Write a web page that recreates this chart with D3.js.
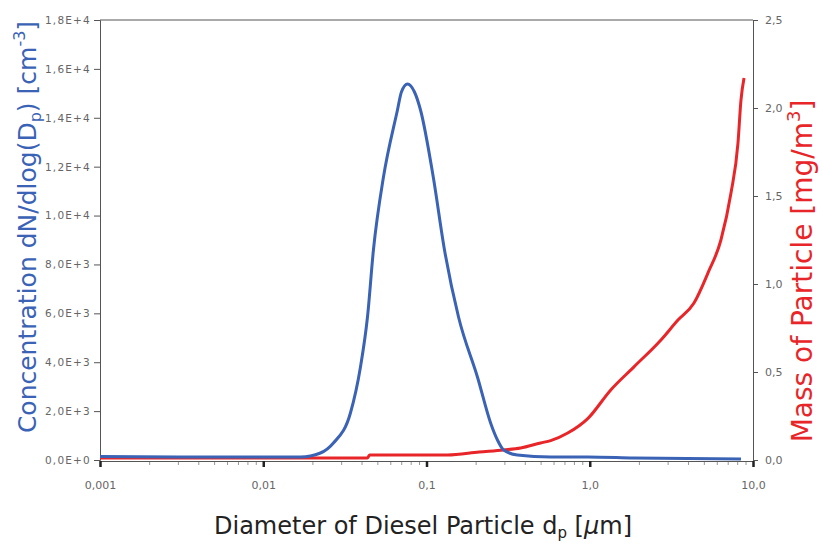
<!DOCTYPE html>
<html>
<head>
<meta charset="utf-8">
<script src="https://cdn.jsdelivr.net/npm/d3@7"></script>
<style>
  body { margin: 0; background: #fff; overflow: hidden; }
  svg { display: block; }
  .tick text { font-family: "DejaVu Sans", sans-serif; fill: #666; }
  .title { font-family: "DejaVu Sans", sans-serif; }
</style>
</head>
<body>
<div class="chart"></div>
<script>
const width = 822;
const height = 545;

// number concentration (left axis)
const blueDiam = [0.001, 0.0041, 0.0169, 0.0224, 0.0269, 0.0342, 0.0394, 0.0435,
  0.0473, 0.0545, 0.0664, 0.0702, 0.0765, 0.0844, 0.0919, 0.110, 0.1289, 0.1571, 0.206,
  0.247, 0.272, 0.297, 0.360, 0.576, 0.972, 1.86, 8.44];
const blueConc = [143, 123, 123, 286, 695, 1923, 3805, 5850,
  8591, 11577, 14318, 15055, 15382, 15055, 14318, 11577, 8591, 5850, 3355,
  1514, 818, 409, 205, 123, 123, 82, 41];

// particle mass (right axis)
const redDiam = [0.001, 0.0083, 0.0434, 0.0449, 0.1345, 0.21, 0.297, 0.377, 0.50, 0.576, 0.733,
  0.972, 1.345, 1.86, 2.73, 3.47, 4.35, 5.30, 6.36, 7.33, 8.09, 8.44, 8.81];
const redMass = [0.011, 0.011, 0.011, 0.028, 0.028, 0.045, 0.057, 0.068, 0.097, 0.11, 0.153,
  0.235, 0.398, 0.528, 0.682, 0.795, 0.892, 1.063, 1.25, 1.517, 1.80, 2.045, 2.17];

const leftTicks = [0, 2000, 4000, 6000, 8000, 10000, 12000, 14000, 16000, 18000];
const leftTickLabels = ["0,0E+0", "2,0E+3", "4,0E+3", "6,0E+3", "8,0E+3", "1,0E+4", "1,2E+4", "1,4E+4", "1,6E+4", "1,8E+4"];
const rightTicks = [0, 0.5, 1, 1.5, 2, 2.5];
const rightTickLabels = ["0,0", "0,5", "1,0", "1,5", "2,0", "2,5"];
const xTicks = [0.001, 0.01, 0.1, 1, 10];
const xTickLabels = ["0,001", "0,01", "0,1", "1,0", "10,0"];

const margin = { top: 20, right: 69, bottom: 85, left: 100 };
const innerWidth = width - margin.left - margin.right;
const innerHeight = height - margin.top - margin.bottom;

const x = d3.scaleLog().domain([0.001, 10]).range([0, innerWidth]);
const yLeft = d3.scaleLinear().domain([0, 18000]).range([innerHeight, 0]);
const yRight = d3.scaleLinear().domain([0, 2.5]).range([innerHeight, 0]);

const svg = d3.select(".chart")
  .append("svg")
  .attr("width", width)
  .attr("height", height);

const g = svg.append("g")
  .attr("transform", `translate(${margin.left},${margin.top})`);

// top frame line
g.append("line")
  .attr("x1", 0).attr("x2", innerWidth)
  .attr("y1", 0).attr("y2", 0)
  .attr("stroke", "#555");

const leftAxis = g.append("g")
  .call(d3.axisLeft(yLeft).tickValues(leftTicks)
    .tickFormat((d, i) => leftTickLabels[i]).tickSize(6).tickPadding(3));

const rightAxis = g.append("g")
  .attr("transform", `translate(${innerWidth},0)`)
  .call(d3.axisRight(yRight).tickValues(rightTicks)
    .tickFormat((d, i) => rightTickLabels[i]).tickSize(5).tickPadding(7));

// minor ticks on the log axis
const minor = [];
xTicks.slice(0, -1).forEach(t => { for (let k = 2; k < 10; k++) minor.push(t * k); });

const xAxisMinor = g.append("g")
  .attr("transform", `translate(0,${innerHeight + 1})`)
  .call(d3.axisBottom(x).tickValues(minor).tickFormat("").tickSize(4));

const xAxis = g.append("g")
  .attr("transform", `translate(0,${innerHeight + 1})`)
  .call(d3.axisBottom(x).tickValues(xTicks)
    .tickFormat((d, i) => xTickLabels[i]).tickSize(6).tickPadding(14));

[leftAxis, rightAxis, xAxis, xAxisMinor].forEach(a => {
  a.select(".domain").attr("stroke", "#555");
  a.selectAll(".tick line").attr("stroke", "#555");
});
xAxisMinor.selectAll(".tick line").attr("stroke", "#999");
xAxisMinor.select(".domain").remove();
xAxis.selectAll(".tick line").attr("stroke-width", 2.5).attr("stroke", "#222");
leftAxis.selectAll(".tick text").style("font-size", "10.5px").style("letter-spacing", "1.2px");
rightAxis.selectAll(".tick text").style("font-size", "11px");
xAxis.selectAll(".tick text").style("font-size", "11px");

const massLine = d3.line()
  .x((d, i) => x(redDiam[i]))
  .y((d, i) => yRight(redMass[i]))
  .curve(d3.curveMonotoneX);

const concLine = d3.line()
  .x((d, i) => x(blueDiam[i]))
  .y((d, i) => yLeft(blueConc[i]))
  .curve(d3.curveMonotoneX);

g.append("path")
  .datum(redMass)
  .attr("fill", "none")
  .attr("stroke", "#e8262a")
  .attr("stroke-width", 3)
  .attr("d", massLine);

g.append("path")
  .datum(blueConc)
  .attr("fill", "none")
  .attr("stroke", "#3a62b5")
  .attr("stroke-width", 3)
  .attr("d", concLine);

// axis titles
const leftTitle = svg.append("text")
  .attr("class", "title")
  .attr("transform", "translate(36,227) rotate(-90)")
  .attr("text-anchor", "middle")
  .style("font-size", "25px")
  .attr("fill", "#3a62b5");
leftTitle.append("tspan").text("Concentration dN/dlog(D");
leftTitle.append("tspan").attr("dy", 5).style("font-size", "16px").text("p");
leftTitle.append("tspan").attr("dy", -5).text(") [cm");
leftTitle.append("tspan").attr("dy", -11).style("font-size", "16px").text("-3");
leftTitle.append("tspan").attr("dy", 11).text("]");

const rightTitle = svg.append("text")
  .attr("class", "title")
  .attr("transform", "translate(812,271) rotate(-90)")
  .attr("text-anchor", "middle")
  .style("font-size", "28px")
  .attr("fill", "#e8262a");
rightTitle.append("tspan").text("Mass of Particle [mg/m");
rightTitle.append("tspan").attr("dy", -12).style("font-size", "18px").text("3");
rightTitle.append("tspan").attr("dy", 12).text("]");

const bottomTitle = svg.append("text")
  .attr("class", "title")
  .attr("x", 423)
  .attr("y", 534)
  .attr("text-anchor", "middle")
  .style("font-size", "24px")
  .attr("fill", "#222");
bottomTitle.append("tspan").text("Diameter of Diesel Particle d");
bottomTitle.append("tspan").attr("dy", 4).style("font-size", "15px").text("p");
bottomTitle.append("tspan").attr("dy", -4).text(" [");
bottomTitle.append("tspan").style("font-style", "italic").text("μ");
bottomTitle.append("tspan").text("m]");
</script>
</body>
</html>
